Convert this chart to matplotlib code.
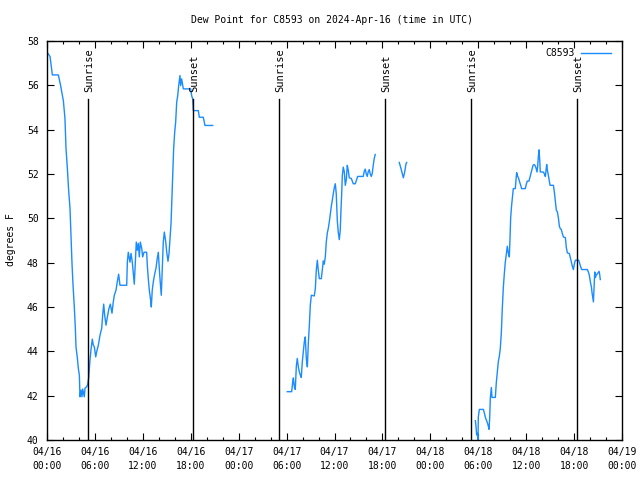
import numpy as np
import matplotlib
matplotlib.use("Agg")
import matplotlib.pyplot as plt

# hours since 2024-04-16 00:00 UTC ; NaN marks data gaps
hours = [0.0, 0.38, 0.67, 1.42, 1.7, 2.05, 2.25, 2.38, 2.55, 2.71, 2.88, 3.0, 3.13, 3.26, 3.42, 3.55, 3.63, 3.8, 3.92, 4.05,
         4.13, 4.26, 4.38, 4.47, 4.67, 4.76, 4.97, 5.09, 5.22, 5.38, 5.5, 5.67, 5.8, 5.93, 6.1, 6.22, 6.43, 6.64, 6.85, 6.97,
         7.1, 7.22, 7.39, 7.56, 7.76, 7.93, 8.14, 8.3, 8.43, 8.64, 8.77, 8.97, 9.14, 9.98, 10.06, 10.18, 10.39, 10.52, 10.68, 10.81,
         10.93, 11.06, 11.18, 11.31, 11.43, 11.56, 11.68, 11.86, 11.98, 12.15, 12.48, 12.56, 12.68, 12.81, 12.98, 13.06, 13.18, 13.31, 13.48, 13.65,
         13.81, 13.94, 14.06, 14.19, 14.31, 14.44, 14.56, 14.69, 14.86, 14.99, 15.15, 15.28, 15.4, 15.53, 15.61, 15.74, 15.86, 15.99, 16.11, 16.24,
         16.37, 16.49, 16.65, 16.74, 16.86, 17.07, 17.99, 18.11, 18.24, 18.32, 18.95, 19.07, 19.57, 19.78, 20.75,
         np.nan,
         30.09, 30.64, 30.77, 30.85, 30.97, 31.09, 31.22, 31.34, 31.47, 31.59, 31.72, 31.84, 31.97, 32.09, 32.22, 32.34, 32.47, 32.6, 32.72, 32.85,
         32.97, 33.1, 33.47, 33.6, 33.72, 33.85, 33.97, 34.1, 34.35, 34.47, 34.6, 34.72, 34.85, 34.97, 35.1, 35.22, 35.35, 35.47, 35.6, 35.72,
         35.85, 35.97, 36.1, 36.22, 36.35, 36.47, 36.6, 36.72, 36.81, 36.9, 36.98, 37.1, 37.23, 37.35, 37.48, 37.6, 37.73, 37.85, 38.1, 38.35,
         38.6, 38.77, 38.9, 39.6, 39.73, 39.85, 39.97, 40.1, 40.22, 40.35, 40.47, 40.6, 40.72, 40.85, 40.97, 41.1,
         np.nan,
         44.11, 44.33, 44.49, 44.62, 44.79, 44.95, 45.04,
         np.nan,
         53.64, 53.72, 53.8, 53.88, 53.97, 54.01, 54.14, 54.64, 54.76, 54.89, 55.01, 55.14, 55.26, 55.35, 55.43, 55.51, 55.64, 55.72, 56.14, 56.26,
         56.39, 56.51, 56.64, 56.76, 56.89, 57.01, 57.14, 57.26, 57.39, 57.51, 57.64, 57.76, 57.89, 57.97, 58.06, 58.18, 58.31, 58.39, 58.64, 58.72,
         58.81, 58.93, 59.06, 59.18, 59.31, 59.43, 59.89, 60.01, 60.14, 60.35, 60.48, 60.6, 60.73, 60.86, 60.98, 61.1, 61.23, 61.36, 61.44, 61.52,
         61.61, 61.7, 61.77, 62.15, 62.27, 62.4, 62.48, 62.57, 62.65, 62.78, 62.9, 62.99, 63.41, 63.53, 63.66, 63.78, 63.91, 64.03, 64.16, 64.28,
         64.41, 64.53, 64.66, 64.91, 65.03, 65.16, 65.41, 65.53, 65.66, 65.78, 65.91, 66.03, 66.16, 66.58, 66.7, 66.83, 66.95, 67.66, 67.79, 67.91,
         68.04, 68.17, 68.25, 68.34, 68.42, 68.51, 68.59, 68.67, 68.76, 68.88, 69.01, 69.13, 69.2, 69.28]

dewpoint = [57.5, 57.3, 56.47, 56.47, 56.0, 55.3, 54.5, 53.15, 52.25, 51.26, 50.45, 49.23, 47.97, 46.98, 46.0, 45.04, 44.2, 43.7, 43.24, 42.93,
            41.95, 42.25, 41.95, 42.3, 41.95, 42.34, 42.4, 42.5, 42.8, 43.6, 44.05, 44.55, 44.28, 44.2, 43.75, 43.98, 44.28, 44.73, 45.04, 45.63,
            46.13, 45.63, 45.18, 45.55, 45.94, 46.13, 45.72, 46.23, 46.53, 46.76, 47.07, 47.48, 46.98, 46.98, 48.03, 48.47, 48.02, 48.42, 48.03, 47.52,
            47.03, 47.97, 48.93, 48.56, 48.87, 48.26, 48.93, 48.65, 48.26, 48.47, 48.47, 47.88, 47.3, 46.76, 46.3, 46.0, 46.76, 47.13, 47.48, 47.75,
            48.21, 48.47, 47.75, 47.07, 46.53, 47.75, 48.93, 49.38, 48.96, 48.48, 48.06, 48.42, 49.1, 49.77, 50.59, 51.8, 53.15, 53.89, 54.34, 55.24,
            55.54, 55.99, 56.44, 55.99, 56.29, 55.84, 55.84, 55.54, 55.39, 54.86, 54.86, 54.56, 54.56, 54.19, 54.19,
            np.nan,
            42.18, 42.18, 42.63, 42.8, 42.4, 42.28, 43.33, 43.68, 43.3, 43.08, 42.93, 42.82, 43.53, 43.98, 44.43, 44.65, 43.68, 43.3, 44.35, 45.18,
            46.08, 46.53, 46.5, 46.83, 47.66, 48.11, 47.66, 47.28, 47.28, 47.66, 48.08, 47.93, 48.26, 48.93, 49.34, 49.54, 49.84, 50.18, 50.54, 50.81,
            51.11, 51.38, 51.56, 51.11, 49.91, 49.38, 49.04, 49.46, 50.36, 51.11, 51.94, 52.31, 52.09, 51.49, 51.74, 52.39, 52.16, 51.83, 51.8, 51.56,
            51.56, 51.74, 51.89, 51.89, 52.13, 52.22, 52.01, 51.89, 52.1, 52.2, 52.01, 51.89, 52.01, 52.39, 52.69, 52.88,
            np.nan,
            52.52, 52.24, 52.01, 51.83, 52.09, 52.46, 52.52,
            np.nan,
            40.87, 40.6, 40.23, 40.3, 40.0, 41.05, 41.38, 41.38, 41.23, 41.02, 40.9, 40.78, 40.63, 40.48, 40.98, 41.88, 42.37, 41.92, 41.92, 42.58,
            43.08, 43.53, 43.78, 44.13, 44.83, 45.93, 46.88, 47.48, 48.03, 48.38, 48.74, 48.44, 48.26, 49.01, 50.03, 50.59, 51.08, 51.34, 51.34, 51.71,
            52.06, 51.9, 51.8, 51.64, 51.5, 51.34, 51.34, 51.53, 51.68, 51.68, 51.86, 52.01, 52.19, 52.39, 52.43, 52.39, 52.28, 52.09, 52.34, 52.76,
            53.09, 52.61, 52.09, 52.09, 52.01, 51.89, 52.13, 52.43, 52.19, 51.94, 51.68, 51.49, 51.49, 51.19, 50.74, 50.36, 50.29, 50.03, 49.64, 49.53,
            49.49, 49.31, 49.16, 49.13, 48.68, 48.44, 48.41, 48.23, 48.03, 47.84, 47.69, 47.93, 48.11, 48.11, 47.96, 47.81, 47.69, 47.69, 47.58, 47.43,
            47.13, 46.9, 46.64, 46.43, 46.23, 46.94, 47.58, 47.33, 47.43, 47.48, 47.55, 47.61, 47.48, 47.24]

sunrise_hours = [5.13, 29.05, 53.09]
sunset_hours = [18.28, 42.32, 66.37]

xtick_hours = [0, 6, 12, 18, 24, 30, 36, 42, 48, 54, 60, 66, 72]
xtick_labels = ["04/16\n00:00", "04/16\n06:00", "04/16\n12:00", "04/16\n18:00",
                "04/17\n00:00", "04/17\n06:00", "04/17\n12:00", "04/17\n18:00",
                "04/18\n00:00", "04/18\n06:00", "04/18\n12:00", "04/18\n18:00",
                "04/19\n00:00"]
yticks = [40, 42, 44, 46, 48, 50, 52, 54, 56, 58]

FONT = "DejaVu Sans Mono"
FS = 7

fig = plt.figure(figsize=(6.4, 4.8), dpi=100)
ax = fig.add_axes([47/640, 40/480, 575/640, 399/480])

line_color = "#1a8cff"
ax.plot(hours, dewpoint, color=line_color, lw=1.0)

ax.set_xlim(0, 72)
ax.set_ylim(40, 58)

line_top = (440 - 99) / 399
label_bottom = (440 - 92) / 399
for h in sunrise_hours:
    ax.axvline(h, ymin=0, ymax=line_top, color="black", lw=1.0)
    ax.text(h + 0.2, label_bottom, "Sunrise", transform=ax.get_xaxis_transform(),
            rotation=90, ha="center", va="bottom", fontsize=FS + 0.5, family=FONT)
for h in sunset_hours:
    ax.axvline(h, ymin=0, ymax=line_top, color="black", lw=1.0)
    ax.text(h + 0.2, label_bottom, "Sunset", transform=ax.get_xaxis_transform(),
            rotation=90, ha="center", va="bottom", fontsize=FS + 0.5, family=FONT)

ax.set_xticks(xtick_hours)
ax.set_xticklabels(xtick_labels, family=FONT, fontsize=FS, linespacing=1.5)
ax.set_xticks(np.arange(0, 73, 2), minor=True)
ax.set_yticks(yticks)
ax.set_yticklabels([str(v) for v in yticks], family=FONT, fontsize=FS)

ax.tick_params(axis="both", which="major", direction="in", length=5, width=0.8,
               top=True, right=True, pad=5)
ax.tick_params(axis="x", which="minor", direction="in", length=2.5, width=0.8,
               top=True, bottom=True)
ax.tick_params(axis="y", which="major", pad=6)
for s in ax.spines.values():
    s.set_linewidth(1.0)

fig.text(332/640, 1 - 20/480, "Dew Point for C8593 on 2024-Apr-16 (time in UTC)",
         ha="center", va="center", family=FONT, fontsize=FS)
fig.text(11/640, 1 - 240/480, "degrees F", rotation=90, ha="center", va="center",
         family=FONT, fontsize=FS)

# legend
ax.text(0.918, 0.982, "C8593", transform=ax.transAxes, ha="right", va="top",
        family=FONT, fontsize=FS)
ax.plot([0.928, 0.98], [0.9705, 0.9705], transform=ax.transAxes, color=line_color, lw=1.0)

fig.savefig("out.png", dpi=100)
